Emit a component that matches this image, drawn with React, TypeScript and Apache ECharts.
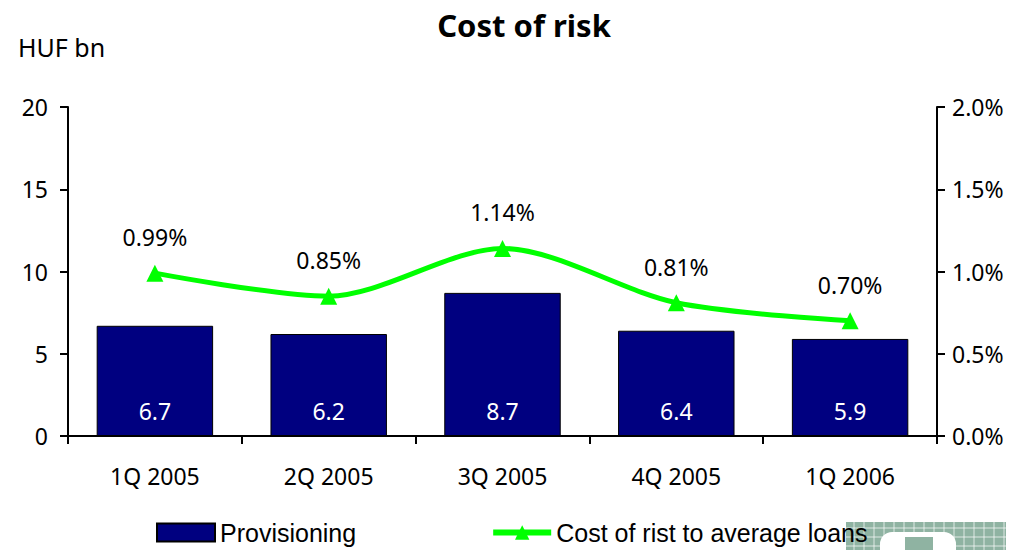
import React, { useEffect, useRef } from "react";
import * as echarts from "echarts";

const categories = ["1Q 2005", "2Q 2005", "3Q 2005", "4Q 2005", "1Q 2006"];
const provisioning = [6.7, 6.2, 8.7, 6.4, 5.9];
const costOfRisk = [0.99, 0.85, 1.14, 0.81, 0.7];
const leftTicks = { min: 0, max: 20, interval: 5 };
const rightTicks = { min: 0, max: 2, interval: 0.5 };

const FONT = "Noto Sans";

export default function App() {
  const ref = useRef<HTMLDivElement>(null);
  useEffect(() => {
    if (!ref.current) return;
    const chart = echarts.init(ref.current, null, { renderer: "svg" });
    const gridLines: any[] = [];
    const lx = 846, ly = 522, lw = 160, lh = 28;
    for (let x = lx + 8; x < lx + lw; x += 10) {
      gridLines.push({ type: "line", z: 0, shape: { x1: x, y1: ly, x2: x, y2: ly + lh }, style: { stroke: "#ffffff", lineWidth: 1, opacity: 0.7 } });
    }
    for (let y = ly + 6; y < ly + lh; y += 9) {
      gridLines.push({ type: "line", z: 0, shape: { x1: lx, y1: y, x2: lx + lw, y2: y }, style: { stroke: "#ffffff", lineWidth: 1, opacity: 0.7 } });
    }
    chart.setOption({
      animation: false,
      title: {
        text: "Cost of risk",
        left: 519,
        textAlign: "center",
        top: 4,
        textStyle: { fontFamily: FONT, fontSize: 31, fontWeight: "bold", color: "#000" },
      },
      graphic: [
        { type: "rect", z: 0, shape: { x: lx, y: ly, width: lw, height: lh }, style: { fill: "#8fb3a2" } },
        ...gridLines,
        { type: "rect", z: 0, shape: { x: 880, y: 532, width: 76, height: 20, r: [12, 12, 0, 0] }, style: { fill: "#ffffff" } },
        { type: "rect", z: 0, shape: { x: 905, y: 537, width: 28, height: 15 }, style: { fill: "#8fb3a2" } },
        {
          type: "text",
          left: 18,
          top: 34,
          style: { text: "HUF bn", font: `25px '${FONT}'`, fill: "#000" },
        },
      ],
      legend: {
        bottom: 0,
        left: 151,
        itemGap: 134,
        itemWidth: 58,
        itemHeight: 18,
        z: 10,
        textStyle: { fontFamily: "Liberation Sans", fontSize: 25, color: "#000" },
        data: [
          { name: "Provisioning", icon: "rect" },
          {
            name: "Cost of rist to average loans",
            lineStyle: { width: 6, color: "#00ff00" },
            itemStyle: { color: "#00ff00" },
          },
        ],
      },
      grid: { left: 68, right: 88, top: 107, bottom: 114 },
      xAxis: {
        type: "category",
        data: categories,
        axisLine: { lineStyle: { color: "#000", width: 2 } },
        axisTick: { show: true, length: 8, lineStyle: { color: "#000", width: 2 } },
        axisLabel: { fontFamily: FONT, fontSize: 23, color: "#000", margin: 28 },
      },
      yAxis: [
        {
          type: "value",
          ...leftTicks,
          splitLine: { show: false },
          axisLine: { show: true, lineStyle: { color: "#000", width: 2 } },
          axisTick: { show: true, length: 8, lineStyle: { color: "#000", width: 2 } },
          axisLabel: { fontFamily: FONT, fontSize: 23, color: "#000", margin: 20 },
        },
        {
          type: "value",
          ...rightTicks,
          position: "right",
          splitLine: { show: false },
          axisLine: { show: true, lineStyle: { color: "#000", width: 2 } },
          axisTick: { show: true, length: 8, lineStyle: { color: "#000", width: 2 } },
          axisLabel: {
            fontFamily: FONT,
            fontSize: 23,
            color: "#000",
            margin: 15,
            formatter: (v: number) => v.toFixed(1) + "%",
          },
        },
      ],
      series: [
        {
          name: "Provisioning",
          type: "bar",
          data: provisioning,
          barWidth: "67%",
          itemStyle: { color: "#000080", borderColor: "#000", borderWidth: 1 },
          label: {
            show: true,
            position: "insideBottom",
            distance: 14,
            fontFamily: FONT,
            fontSize: 23,
            color: "#fff",
            formatter: (p: any) => p.value.toFixed(1),
          },
        },
        {
          name: "Cost of rist to average loans",
          type: "line",
          yAxisIndex: 1,
          data: costOfRisk,
          smooth: 0.3,
          symbol: "triangle",
          symbolSize: 17,
          lineStyle: { color: "#00ff00", width: 5 },
          itemStyle: { color: "#00ff00" },
          label: {
            show: true,
            position: "top",
            distance: 16,
            fontFamily: FONT,
            fontSize: 23,
            color: "#000",
            formatter: (p: any) => p.value.toFixed(2) + "%",
          },
        },
      ],
    });
    return () => chart.dispose();
  }, []);
  return <div ref={ref} style={{ width: 1025, height: 550, position: "absolute", left: 0, top: 0 }} />;
}
